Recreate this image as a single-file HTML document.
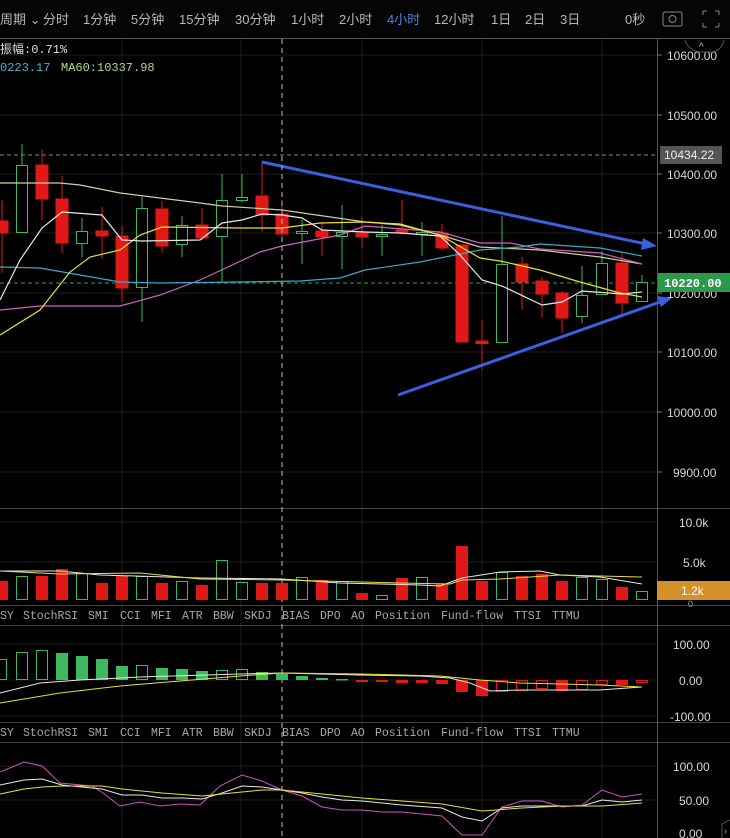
<!DOCTYPE html>
<html><head><meta charset="utf-8"><style>
html,body{margin:0;padding:0;background:#000;}
svg{display:block}
text{font-family:"Liberation Sans","Noto Sans CJK SC",sans-serif;}
.ax{font-size:12px;fill:#d8d8d8;}
.tb{font-size:13px;fill:#b8b8b8;}
.lb text{font-family:"Liberation Mono","Noto Sans CJK SC",monospace;font-size:11.5px;fill:#a8a8a8;}
</style></head><body>
<svg width="730" height="838" viewBox="0 0 730 838" xmlns="http://www.w3.org/2000/svg">
<rect width="730" height="838" fill="#000"/>
<rect width="730" height="38" fill="#050505"/>
<text class="tb" x="0" y="24">周期 ⌄</text>
<text class="tb" x="43" y="24">分时</text>
<text class="tb" x="83" y="24">1分钟</text>
<text class="tb" x="131" y="24">5分钟</text>
<text class="tb" x="179" y="24">15分钟</text>
<text class="tb" x="235" y="24">30分钟</text>
<text class="tb" x="291" y="24">1小时</text>
<text class="tb" x="339" y="24">2小时</text>
<text class="tb" x="387" y="24" style="fill:#4f7fe0">4小时</text>
<text class="tb" x="434" y="24">12小时</text>
<text class="tb" x="491" y="24">1日</text>
<text class="tb" x="525" y="24">2日</text>
<text class="tb" x="560" y="24">3日</text>
<text class="tb" x="625" y="24">0秒</text>
<rect x="663" y="12" width="19" height="14" rx="2" fill="none" stroke="#888" stroke-width="1"/>
<circle cx="672.5" cy="19" r="3.5" fill="none" stroke="#888"/>
<path d="M703 11h4M703 11v4M719 11h-4M719 11v4M703 27h4M703 27v-4M719 27h-4M719 27v-4" stroke="#888" fill="none"/>
<line x1="0" y1="38.5" x2="730" y2="38.5" stroke="#555"/>

<g stroke="#1e1e1e" stroke-width="1">
<line x1="122" y1="39" x2="122" y2="838"/><line x1="241" y1="39" x2="241" y2="838"/><line x1="362" y1="39" x2="362" y2="838"/><line x1="482" y1="39" x2="482" y2="838"/><line x1="602" y1="39" x2="602" y2="838"/>
<line x1="0" y1="55" x2="657" y2="55"/><line x1="0" y1="115" x2="657" y2="115"/><line x1="0" y1="174" x2="657" y2="174"/><line x1="0" y1="233" x2="657" y2="233"/><line x1="0" y1="293" x2="657" y2="293"/><line x1="0" y1="352" x2="657" y2="352"/><line x1="0" y1="412" x2="657" y2="412"/><line x1="0" y1="472" x2="657" y2="472"/>
<line x1="0" y1="522" x2="657" y2="522"/><line x1="0" y1="562" x2="657" y2="562"/>
<line x1="0" y1="644" x2="657" y2="644"/><line x1="0" y1="680" x2="657" y2="680"/><line x1="0" y1="716" x2="657" y2="716"/>
<line x1="0" y1="766" x2="657" y2="766"/><line x1="0" y1="800" x2="657" y2="800"/>
</g>
<g stroke="#444"><line x1="0" y1="508.5" x2="730" y2="508.5"/><line x1="0" y1="625.5" x2="730" y2="625.5"/><line x1="0" y1="722.5" x2="730" y2="722.5"/><line x1="0" y1="742.5" x2="730" y2="742.5"/><line x1="0" y1="605.5" x2="730" y2="605.5"/></g>
<line x1="657.5" y1="39" x2="657.5" y2="838" stroke="#555"/>

<text x="0" y="53" style="font-family:'Liberation Mono','Noto Sans CJK SC',monospace;font-size:12px;fill:#ddd">振幅:0.71%</text>
<text x="0" y="71" style="font-family:'Liberation Mono',monospace;font-size:12px;fill:#4ab0d0">0223.17</text>
<text x="61" y="71" style="font-family:'Liberation Mono',monospace;font-size:12px;fill:#b8d88a">MA60:10337.98</text>

<line x1="0" y1="155" x2="657" y2="155" stroke="#888" stroke-dasharray="4,3"/>
<line x1="0" y1="283" x2="657" y2="283" stroke="#3a9a5a" stroke-dasharray="4,3"/>

<g stroke-width="1">
<g stroke="#e01818" fill="#e01818">
<line x1="2" y1="200" x2="2" y2="273"/><rect x="-4" y="221" width="12" height="12"/>
<line x1="42" y1="150" x2="42" y2="220"/><rect x="36" y="165" width="12" height="34"/>
<line x1="62" y1="176" x2="62" y2="253"/><rect x="56" y="199" width="12" height="44"/>
<line x1="102" y1="207" x2="102" y2="259"/><rect x="96" y="231" width="12" height="5"/>
<line x1="122" y1="226" x2="122" y2="302"/><rect x="116" y="236" width="12" height="52"/>
<line x1="162" y1="201" x2="162" y2="253"/><rect x="156" y="209" width="12" height="37"/>
<line x1="202" y1="208" x2="202" y2="240"/><rect x="196" y="225" width="12" height="13"/>
<line x1="262" y1="162" x2="262" y2="231"/><rect x="256" y="196" width="12" height="19"/>
<line x1="282" y1="200" x2="282" y2="240"/><rect x="276" y="214" width="12" height="20"/>
<line x1="322" y1="223" x2="322" y2="256"/><rect x="316" y="231" width="12" height="6"/>
<line x1="362" y1="217" x2="362" y2="248"/><rect x="356" y="233" width="12" height="4"/>
<line x1="402" y1="200" x2="402" y2="233"/><rect x="396" y="230" width="12" height="3"/>
<line x1="442" y1="224" x2="442" y2="250"/><rect x="436" y="233" width="12" height="15"/>
<line x1="462" y1="245" x2="462" y2="342"/><rect x="456" y="245" width="12" height="97"/>
<line x1="482" y1="320" x2="482" y2="370"/><rect x="476" y="341" width="12" height="2.5"/>
<line x1="522" y1="257" x2="522" y2="310"/><rect x="516" y="264" width="12" height="18"/>
<line x1="542" y1="277" x2="542" y2="318"/><rect x="536" y="281" width="12" height="13"/>
<line x1="562" y1="291" x2="562" y2="333"/><rect x="556" y="293" width="12" height="25"/>
<line x1="622" y1="252" x2="622" y2="317"/><rect x="616" y="263" width="12" height="40"/>
</g>
<g stroke="#3cb860" fill="#000">
<line x1="22" y1="144" x2="22" y2="233"/><rect x="16.5" y="165.5" width="11" height="67"/>
<line x1="82" y1="218" x2="82" y2="257"/><rect x="76.5" y="231.5" width="11" height="12"/>
<line x1="142" y1="197" x2="142" y2="322"/><rect x="136.5" y="208.5" width="11" height="79"/>
<line x1="182" y1="216" x2="182" y2="257"/><rect x="176.5" y="225.5" width="11" height="19"/>
<line x1="222" y1="174" x2="222" y2="282"/><rect x="216.5" y="200.5" width="11" height="36"/>
<line x1="242" y1="174" x2="242" y2="202"/><rect x="236.5" y="197.5" width="11" height="3"/>
<line x1="302" y1="220" x2="302" y2="264"/><rect x="296.5" y="231.5" width="11" height="2"/>
<line x1="342" y1="205" x2="342" y2="269"/><rect x="336.5" y="232.5" width="11" height="4"/>
<line x1="382" y1="225" x2="382" y2="256"/><rect x="376.5" y="234.5" width="11" height="2"/>
<line x1="422" y1="222" x2="422" y2="256"/><rect x="416.5" y="232.5" width="11" height="2"/>
<line x1="502" y1="216" x2="502" y2="343"/><rect x="496.5" y="264.5" width="11" height="78"/>
<line x1="582" y1="266" x2="582" y2="323"/><rect x="576.5" y="295.5" width="11" height="21"/>
<line x1="602" y1="251" x2="602" y2="295"/><rect x="596.5" y="263.5" width="11" height="31"/>
<line x1="642" y1="275" x2="642" y2="302"/><rect x="636.5" y="282.5" width="11" height="19"/>
</g>
</g>

<g fill="none" stroke-width="1.2">
<polyline stroke="#cfcf9a" points="0,183 60,183 80,185 120,193 200,203 222,206 282,210 365,222 400,225 440,235 480,247 540,250 600,257 642,264"/>
<polyline stroke="#d060c0" points="0,310 40,306 120,306 160,295 200,280 260,252 282,246 340,235 365,226 440,232 480,243 510,243 540,249 600,253 642,264"/>
<polyline stroke="#3aa8c8" points="0,267 40,268 80,275 120,282 160,283 240,282 300,281 340,278 365,270 420,262 480,250 520,247 540,244 600,248 642,256"/>
<polyline stroke="#e8e030" points="0,335 40,310 70,272 90,257 120,250 140,235 162,227 240,228 282,228 320,223 365,222 400,224 440,235 480,258 500,261 540,270 580,282 620,293 642,297"/>
<polyline stroke="#e8e8e8" points="0,300 20,260 42,228 62,212 102,215 122,240 142,241 200,240 222,223 242,220 262,214 282,215 302,218 322,230 365,232 400,233 440,236 460,255 482,280 502,286 542,305 562,302 582,291 622,294 642,292"/>
</g>

<g stroke="#3d5ee0" stroke-width="3" fill="#3d5ee0">
<line x1="262" y1="162" x2="646" y2="244"/>
<polygon points="657,246 643,238 641,250" stroke="none"/>
<line x1="398" y1="395" x2="660" y2="302"/>
<polygon points="672,298 657,296 661,307" stroke="none"/>
</g>

<line x1="282" y1="39" x2="282" y2="838" stroke="#bbb" stroke-dasharray="5,4"/>

<g class="ax">
<text x="667" y="60">10600.00</text><text x="667" y="120">10500.00</text><text x="667" y="179">10400.00</text><text x="667" y="238">10300.00</text><text x="667" y="298">10200.00</text><text x="667" y="357">10100.00</text><text x="667" y="417">10000.00</text><text x="673" y="477">9900.00</text>
</g>
<g stroke="#777"><line x1="657" y1="55" x2="662" y2="55"/><line x1="657" y1="115" x2="662" y2="115"/><line x1="657" y1="174" x2="662" y2="174"/><line x1="657" y1="233" x2="662" y2="233"/><line x1="657" y1="293" x2="662" y2="293"/><line x1="657" y1="352" x2="662" y2="352"/><line x1="657" y1="412" x2="662" y2="412"/><line x1="657" y1="472" x2="662" y2="472"/></g>
<path d="M685 40 Q688 50 700 52 L712 52 Q722 50 724 40" fill="none" stroke="#555"/>
<text x="699" y="50" style="font-size:10px;fill:#ccc">^</text>
<rect x="660" y="146" width="62" height="18" fill="#555"/>
<text class="ax" x="664" y="159" style="fill:#eee">10434.22</text>
<rect x="658" y="273" width="72" height="19" fill="#2a9a4a"/>
<text x="664" y="287" style="font-family:'Liberation Mono',monospace;font-size:12px;font-weight:bold;fill:#fff">10220.00</text>

<g fill="#e01818">
<rect x="-4" y="581" width="12" height="19"/><rect x="36" y="576" width="12" height="24"/><rect x="56" y="569" width="12" height="31"/><rect x="96" y="583" width="12" height="17"/><rect x="116" y="576" width="12" height="24"/><rect x="156" y="583" width="12" height="17"/><rect x="196" y="585" width="12" height="15"/><rect x="256" y="583" width="12" height="17"/><rect x="276" y="583" width="12" height="17"/><rect x="316" y="580" width="12" height="20"/><rect x="356" y="593" width="12" height="7"/><rect x="396" y="578" width="12" height="22"/><rect x="436" y="584" width="12" height="16"/><rect x="456" y="546" width="12" height="54"/><rect x="476" y="581" width="12" height="19"/><rect x="516" y="576" width="12" height="24"/><rect x="536" y="574" width="12" height="26"/><rect x="556" y="581" width="12" height="19"/><rect x="616" y="587" width="12" height="13"/>
</g>
<g fill="none" stroke="#3cb860">
<rect x="16.5" y="576.5" width="11" height="23"/><rect x="76.5" y="573.5" width="11" height="26"/><rect x="136.5" y="576.5" width="11" height="23"/><rect x="176.5" y="581.5" width="11" height="18"/><rect x="216.5" y="560.5" width="11" height="39"/><rect x="236.5" y="582.5" width="11" height="17"/><rect x="296.5" y="577.5" width="11" height="22"/><rect x="336.5" y="581.5" width="11" height="18"/><rect x="376.5" y="595.5" width="11" height="4"/><rect x="416.5" y="577.5" width="11" height="22"/><rect x="496.5" y="572.5" width="11" height="27"/><rect x="576.5" y="577.5" width="11" height="22"/><rect x="596.5" y="579.5" width="11" height="20"/><rect x="636.5" y="591.5" width="11" height="8"/>
</g>
<polyline fill="none" stroke="#e8e8e8" points="0,571 60,571 100,575 200,578 282,579 340,583 420,585 440,586 462,578 500,572 540,571 560,575 600,577 642,584"/>
<polyline fill="none" stroke="#e8e030" points="0,571 60,574 140,573 200,579 282,580 400,583 450,584 462,580 500,579 560,575 600,576 642,577"/>
<g class="ax"><text x="679" y="527">10.0k</text><text x="683" y="567">5.0k</text></g>
<rect x="657" y="581" width="73" height="19" fill="#d4902a"/>
<text x="681" y="595" style="font-size:12px;fill:#fff">1.2k</text>
<text x="688" y="607" style="font-size:9px;fill:#aaa">0</text>

<g class="lb">
<text x="0" y="619">SY</text><text x="23" y="619">StochRSI</text><text x="88" y="619">SMI</text><text x="120" y="619">CCI</text><text x="151" y="619">MFI</text><text x="182" y="619">ATR</text><text x="213" y="619">BBW</text><text x="244" y="619">SKDJ</text><text x="282" y="619">BIAS</text><text x="320" y="619">DPO</text><text x="351" y="619">AO</text><text x="375" y="619">Position</text><text x="441" y="619">Fund-flow</text><text x="514" y="619">TTSI</text><text x="552" y="619">TTMU</text>
</g>
<g class="lb">
<text x="0" y="736">SY</text><text x="23" y="736">StochRSI</text><text x="88" y="736">SMI</text><text x="120" y="736">CCI</text><text x="151" y="736">MFI</text><text x="182" y="736">ATR</text><text x="213" y="736">BBW</text><text x="244" y="736">SKDJ</text><text x="282" y="736">BIAS</text><text x="320" y="736">DPO</text><text x="351" y="736">AO</text><text x="375" y="736">Position</text><text x="441" y="736">Fund-flow</text><text x="514" y="736">TTSI</text><text x="552" y="736">TTMU</text>
</g>

<g fill="#3cb860">
<rect x="56" y="653" width="12" height="27"/><rect x="76" y="656" width="12" height="24"/><rect x="96" y="659" width="12" height="21"/><rect x="116" y="666" width="12" height="14"/><rect x="156" y="668" width="12" height="12"/><rect x="176" y="669" width="12" height="11"/><rect x="196" y="671" width="12" height="9"/><rect x="256" y="672" width="12" height="8"/><rect x="276" y="674" width="12" height="6"/><rect x="296" y="676" width="12" height="4"/><rect x="316" y="678" width="12" height="2"/><rect x="336" y="679" width="12" height="1.5"/>
</g>
<g fill="none" stroke="#3cb860">
<rect x="-4.5" y="659.5" width="11" height="20"/><rect x="16.5" y="652.5" width="11" height="27"/><rect x="36.5" y="650.5" width="11" height="29"/><rect x="136.5" y="665.5" width="11" height="14"/><rect x="216.5" y="670.5" width="11" height="9"/><rect x="236.5" y="669.5" width="11" height="10"/>
</g>
<g fill="#e01818">
<rect x="356" y="680" width="12" height="2"/><rect x="376" y="680" width="12" height="2"/><rect x="396" y="680" width="12" height="3"/><rect x="416" y="680" width="12" height="3"/><rect x="436" y="680" width="12" height="4"/><rect x="456" y="680" width="12" height="12"/><rect x="476" y="680" width="12" height="16"/><rect x="556" y="680" width="12" height="11"/><rect x="616" y="680" width="12" height="5"/>
</g>
<g fill="none" stroke="#e01818">
<rect x="496.5" y="680.5" width="11" height="11"/><rect x="516.5" y="680.5" width="11" height="10"/><rect x="536.5" y="680.5" width="11" height="8"/><rect x="576.5" y="680.5" width="11" height="9"/><rect x="596.5" y="680.5" width="11" height="4"/><rect x="636.5" y="680.5" width="11" height="2"/>
</g>
<polyline fill="none" stroke="#e8e8e8" points="0,693 40,683 80,680 140,677 240,674 282,673 360,675 420,676 450,678 470,683 490,691 520,690 600,690 642,687"/>
<polyline fill="none" stroke="#e8e030" points="0,703 60,693 120,686 180,681 240,676 282,673 360,674 440,676 480,680 520,683 560,684 600,685 642,687"/>
<g class="ax"><text x="673" y="649">100.00</text><text x="679" y="685">0.00</text><text x="670" y="721">-100.00</text></g>

<polyline fill="none" stroke="#d050c0" points="0,772 24,762 42,766 60,783 92,786 103,793 120,806 140,802 160,806 180,804 200,805 220,786 242,775 262,781 282,790 302,796 322,807 342,810 362,810 382,812 402,812 442,816 462,835 482,835 502,807 522,801 542,801 562,807 582,805 602,790 622,797 642,794"/>
<polyline fill="none" stroke="#e8e8e8" points="0,785 24,780 42,779 62,785 102,789 122,795 142,795 162,798 182,798 202,799 222,793 242,786 262,787 282,790 302,793 322,797 342,800 362,801 402,805 442,808 462,817 482,821 502,808 522,806 582,806 602,800 622,802 642,800"/>
<polyline fill="none" stroke="#e8e030" points="0,794 24,789 42,787 62,786 102,786 122,789 162,793 202,796 242,792 262,790 282,790 322,794 362,798 402,801 442,804 482,811 522,808 562,806 602,806 642,803"/>
<g class="ax"><text x="673" y="771">100.00</text><text x="679" y="805">50.00</text><text x="679" y="838">0.00</text></g>
<path d="M730 820 L722 824 L722 838" fill="none" stroke="#555"/>
<text x="724" y="834" style="font-size:9px;fill:#aaa">›</text>
</svg>
</body></html>
